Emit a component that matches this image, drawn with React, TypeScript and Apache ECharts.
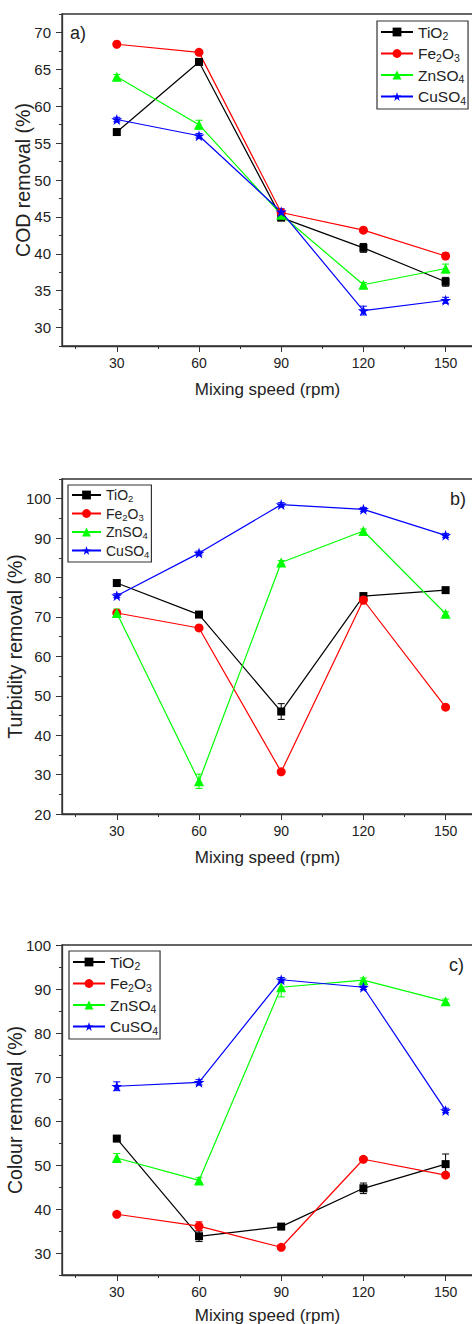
import React, { useEffect, useRef } from 'react';
import * as echarts from 'echarts';

const FONT = "'Liberation Sans', Arial, Helvetica, sans-serif";

// ---- data ----
const speeds = [30, 60, 90, 120, 150];
const materials = ['TiO2', 'Fe2O3', 'ZnSO4', 'CuSO4'];

const codTiO2 = [56.5, 66.0, 44.9, 40.8, 36.2];
const codFe2O3 = [68.4, 67.3, 45.6, 43.2, 39.7];
const codZnSO4 = [64.0, 57.5, 45.3, 35.8, 38.0];
const codCuSO4 = [58.2, 56.0, 45.7, 32.3, 33.7];

const turbTiO2 = [78.6, 70.6, 46.0, 75.3, 76.8];
const turbFe2O3 = [71.0, 67.2, 30.7, 74.3, 47.1];
const turbZnSO4 = [71.0, 28.3, 83.8, 91.8, 70.8];
const turbCuSO4 = [75.4, 86.2, 98.5, 97.3, 90.7];

const colTiO2 = [56.0, 33.8, 36.0, 44.7, 50.2];
const colFe2O3 = [38.8, 36.1, 31.3, 51.3, 47.7];
const colZnSO4 = [51.6, 46.5, 90.4, 92.0, 87.2];
const colCuSO4 = [67.9, 68.8, 92.1, 90.4, 62.4];

// error bars (+/-)
const codErrTiO2 = [0.3, 0.3, 0.4, 0.6, 0.6];
const codErrFe2O3 = [0.2, 0.2, 0.3, 0.3, 0.4];
const codErrZnSO4 = [0.3, 0.6, 0.5, 0.3, 0.6];
const codErrCuSO4 = [0.3, 0.3, 0.4, 0.6, 0.4];

const turbErrTiO2 = [0.5, 0.5, 2.0, 0.5, 0.5];
const turbErrFe2O3 = [0.5, 0.5, 0.5, 1.0, 0.5];
const turbErrZnSO4 = [1.0, 1.8, 0.5, 0.5, 0.5];
const turbErrCuSO4 = [0.5, 0.5, 0.5, 0.5, 0.5];

const colErrTiO2 = [0.5, 1.2, 0.5, 1.2, 2.3];
const colErrFe2O3 = [0.5, 1.0, 0.5, 0.5, 0.5];
const colErrZnSO4 = [1.0, 0.6, 2.2, 0.5, 0.5];
const colErrCuSO4 = [1.0, 0.6, 0.5, 0.5, 0.5];

const xMajorTicks = [30, 60, 90, 120, 150];
const xMinorTicks = [15, 45, 75, 105, 135];

const codTicks = [30, 35, 40, 45, 50, 55, 60, 65, 70];
const turbTicks = [20, 30, 40, 50, 60, 70, 80, 90, 100];
const colTicks = [30, 40, 50, 60, 70, 80, 90, 100];

// ---- styles ----
const COLORS = ['#000000', '#ff0000', '#00ff00', '#0000ff'];
const STAR = 'path://M50,0 L61.8,35.1 L97.6,34.5 L68.7,56 L79.4,90.5 L50,69.5 L20.6,90.5 L31.3,56 L2.4,34.5 L38.2,35.1 Z';
const SYMBOLS = ['rect', 'circle', 'triangle', STAR];
const SYMBOL_SIZES = [8, 9, 10, 11];

const panels = [
  {
    values: [codTiO2, codFe2O3, codZnSO4, codCuSO4],
    errors: [codErrTiO2, codErrFe2O3, codErrZnSO4, codErrCuSO4],
    ticks: codTicks, min: 27.5, max: 72.5, minorStep: 2.5,
    yName: 'COD removal (%)', yNameGap: 29, xNameGap: 35,
    grid: { left: 62, top: 14, width: 411, height: 332 },
    legend: { left: 377, top: 21, itemGap: 4, itemWidth: 32, font: 15.5, sub: 10.5, subPad: 8 },
    label: 'a)', labelPos: { x: 70, y: 33 },
  },
  {
    values: [turbTiO2, turbFe2O3, turbZnSO4, turbCuSO4],
    errors: [turbErrTiO2, turbErrFe2O3, turbErrZnSO4, turbErrCuSO4],
    ticks: turbTicks, min: 20, max: 105, minorStep: 5,
    yName: 'Turbidity removal (%)', yNameGap: 37, xNameGap: 35,
    grid: { left: 62, top: 479, width: 411, height: 335 },
    legend: { left: 68, top: 485, itemGap: 3, itemWidth: 29, font: 14, sub: 9.5, subPad: 7 },
    label: 'b)', labelPos: { x: 450, y: 499 },
  },
  {
    values: [colTiO2, colFe2O3, colZnSO4, colCuSO4],
    errors: [colErrTiO2, colErrFe2O3, colErrZnSO4, colErrCuSO4],
    ticks: colTicks, min: 25, max: 100, minorStep: 5,
    yName: 'Colour removal (%)', yNameGap: 37, xNameGap: 32,
    grid: { left: 62, top: 945, width: 411, height: 330 },
    legend: { left: 69, top: 951, itemGap: 4, itemWidth: 32, font: 15.5, sub: 10.5, subPad: 8 },
    label: 'c)', labelPos: { x: 449, y: 965 },
  },
];

const legendText: Record<string, string> = {
  TiO2: '{n|TiO}{s|2}',
  Fe2O3: '{n|Fe}{s|2}{n|O}{s|3}',
  ZnSO4: '{n|ZnSO}{s|4}',
  CuSO4: '{n|CuSO}{s|4}',
};

function buildOption() {
  const grid: any[] = [];
  const xAxis: any[] = [];
  const yAxis: any[] = [];
  const series: any[] = [];
  const legend: any[] = [];
  const graphic: any[] = [];

  panels.forEach((p, i) => {
    grid.push({
      ...p.grid, show: true, borderColor: '#333', borderWidth: 1.3, backgroundColor: 'transparent',
      containLabel: false, outerBoundsMode: 'none',
    });

    // main x (minor ticks)
    xAxis.push({
      type: 'value', gridIndex: i, position: 'bottom', min: 10, max: 160, interval: 5,
      axisLine: { show: true, lineStyle: { color: '#333', width: 1.3 } },
      axisTick: { show: true, customValues: xMinorTicks, length: 3, lineStyle: { color: '#333' } },
      axisLabel: { show: false },
      splitLine: { show: false },
    });
    // overlay x (major ticks + labels)
    xAxis.push({
      type: 'value', gridIndex: i, position: 'bottom', min: 10, max: 160, interval: 5,
      axisLine: { show: false },
      axisTick: { show: true, customValues: xMajorTicks, length: 6, lineStyle: { color: '#333' } },
      axisLabel: { show: true, customValues: xMajorTicks, margin: 10, fontSize: 14, fontFamily: FONT, color: '#222' },
      splitLine: { show: false },
      name: 'Mixing speed (rpm)', nameLocation: 'middle', nameGap: p.xNameGap, nameMoveOverlap: false,
      nameTextStyle: { fontSize: 17, fontFamily: FONT, color: '#222' },
    });

    yAxis.push({
      type: 'value', gridIndex: i, position: 'left', min: p.min, max: p.max, interval: p.minorStep,
      axisLine: { show: true, lineStyle: { color: '#333', width: 1.3 } },
      axisTick: { show: true, length: 3, lineStyle: { color: '#333' } },
      axisLabel: { show: false },
      splitLine: { show: false },
    });
    yAxis.push({
      type: 'value', gridIndex: i, position: 'left', min: p.min, max: p.max, interval: p.minorStep,
      axisLine: { show: false },
      axisTick: { show: true, customValues: p.ticks, length: 6, lineStyle: { color: '#333' } },
      axisLabel: { show: true, customValues: p.ticks, margin: 11, fontSize: 15, fontFamily: FONT, color: '#222' },
      splitLine: { show: false },
      name: p.yName, nameLocation: 'middle', nameGap: p.yNameGap, nameMoveOverlap: false,
      nameTextStyle: { fontSize: 19.5, fontFamily: FONT, color: '#222' },
    });

    p.values.forEach((vals, j) => {
      series.push({
        type: 'line', name: materials[j], xAxisIndex: i * 2, yAxisIndex: i * 2,
        data: speeds.map((s, k) => [s, vals[k]]),
        symbol: SYMBOLS[j], symbolSize: SYMBOL_SIZES[j],
        lineStyle: { color: COLORS[j], width: 1.2 },
        itemStyle: { color: COLORS[j] },
        z: 3,
      });
    });

    const errData: number[][] = [];
    p.values.forEach((vals, j) => {
      speeds.forEach((s, k) => {
        const e = p.errors[j][k];
        if (e > 0) errData.push([s, vals[k] - e, vals[k] + e, j]);
      });
    });
    series.push({
      type: 'custom', name: 'err' + i, xAxisIndex: i * 2, yAxisIndex: i * 2,
      data: errData, z: 2,
      encode: { x: 0, y: [1, 2] },
      renderItem: (params: any, api: any) => {
        const x = api.value(0);
        const lo = api.coord([x, api.value(1)]);
        const hi = api.coord([x, api.value(2)]);
        const c = COLORS[api.value(3)];
        const st = { stroke: c, lineWidth: 1 };
        const w = 3.5;
        return {
          type: 'group',
          children: [
            { type: 'line', shape: { x1: lo[0], y1: lo[1], x2: hi[0], y2: hi[1] }, style: st },
            { type: 'line', shape: { x1: lo[0] - w, y1: lo[1], x2: lo[0] + w, y2: lo[1] }, style: st },
            { type: 'line', shape: { x1: hi[0] - w, y1: hi[1], x2: hi[0] + w, y2: hi[1] }, style: st },
          ],
        };
      },
    });

    const L = p.legend;
    legend.push({
      orient: 'vertical', left: L.left, top: L.top,
      data: materials,
      borderColor: '#333', borderWidth: 1.2, padding: [3, 2, 3, 3],
      itemWidth: L.itemWidth, itemHeight: 11, itemGap: L.itemGap,
      selectedMode: false,
      formatter: (name: string) => legendText[name] || name,
      textStyle: {
        fontFamily: FONT, fontSize: L.font, color: '#222',
        rich: {
          n: { fontFamily: FONT, fontSize: L.font, color: '#222' },
          s: { fontFamily: FONT, fontSize: L.sub, color: '#222', padding: [L.subPad, 0, 0, 0] },
        },
      },
    });

    graphic.push({
      type: 'text', x: p.labelPos.x, y: p.labelPos.y,
      style: { text: p.label, font: `18px ${FONT}`, fill: '#222', verticalAlign: 'middle' },
    });
  });

  return { animation: false, backgroundColor: '#ffffff', grid, xAxis, yAxis, series, legend, graphic };
}

export default function App() {
  const ref = useRef<HTMLDivElement>(null);
  useEffect(() => {
    if (!ref.current) return;
    const chart = echarts.init(ref.current, undefined, { renderer: 'svg' });
    chart.setOption(buildOption() as any);
    return () => chart.dispose();
  }, []);
  return (
    <div
      ref={ref}
      style={{ position: 'absolute', left: 0, top: 0, width: 472, height: 1324, background: '#fff' }}
    />
  );
}
